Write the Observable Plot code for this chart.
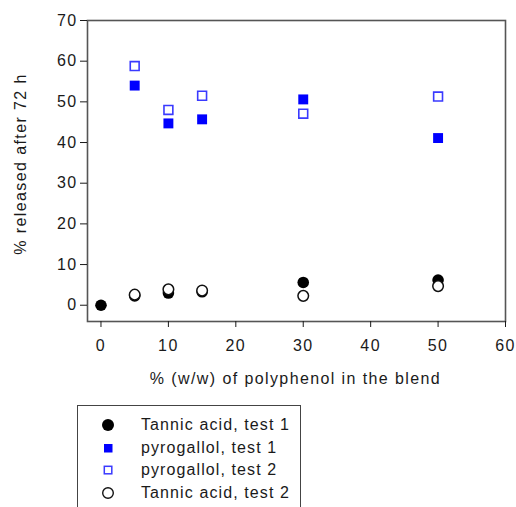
<!DOCTYPE html>
<html>
<head>
<meta charset="utf-8">
<script src="https://cdn.jsdelivr.net/npm/d3@7"></script>
<script src="https://cdn.jsdelivr.net/npm/@observablehq/plot@0.6"></script>
<style>
  body { margin: 0; background: #fff; }
  #wrap { position: relative; width: 516px; height: 507px; overflow: hidden; font-family: "Liberation Sans", Arial, sans-serif; color: #1a1a1a; }
  #legend { position: absolute; left: 77px; top: 405px; width: 224px; height: 130px; border: 1px solid #444; box-sizing: border-box; background: #fff; }
  .row { position: absolute; left: 0; height: 22px; display: flex; align-items: center; font-size: 16px; letter-spacing: 1.1px; }
  .row svg { position: absolute; left: 22px; }
  .row span { position: absolute; left: 63px; white-space: nowrap; }
</style>
</head>
<body>
<div id="wrap"><div id="chart"></div><div id="legend"></div></div>
<script>
// Data
const tannicX1 = [0, 5, 10, 15, 30, 50];
const tannicTest1 = [0, 2.3, 3.0, 3.3, 5.6, 6.2];
const tannicX2 = [5, 10, 15, 30, 50];
const tannicTest2 = [2.6, 3.9, 3.6, 2.3, 4.7];
const pyroX = [5, 10, 15, 30, 50];
const pyroTest1 = [54.0, 44.7, 45.7, 50.6, 41.1];
const pyroTest2 = [58.8, 48.0, 51.5, 47.1, 51.3];
const xTicks = [0, 10, 20, 30, 40, 50, 60];
const yTicks = [0, 10, 20, 30, 40, 50, 60, 70];
const xLabel = "% (w/w) of polyphenol in the blend";
const yLabel = "% released after 72 h";
const seriesNames = ["Tannic acid, test 1", "pyrogallol, test 1", "pyrogallol, test 2", "Tannic acid, test 2"];

const t1 = tannicX1.map((x, i) => ({x, y: tannicTest1[i]}));
const t2 = tannicX2.map((x, i) => ({x, y: tannicTest2[i]}));
const p1 = pyroX.map((x, i) => ({x, y: pyroTest1[i]}));
const p2 = pyroX.map((x, i) => ({x, y: pyroTest2[i]}));

const chart = Plot.plot({
  width: 516,
  height: 400,
  marginLeft: 87,
  marginRight: 11,
  marginTop: 20,
  marginBottom: 79,
  style: { fontFamily: "Liberation Sans, Arial, sans-serif", fontSize: "16px", letterSpacing: "1.4px", color: "#1a1a1a", background: "#fff" },
  x: { domain: [-2, 60] },
  y: { domain: [-4, 70] },
  marks: [
    Plot.frame({ stroke: "#555", strokeWidth: 1.6 }),
    Plot.axisX({ ticks: xTicks, tickSize: 6, tickPadding: 12, tickFormat: d => String(d), label: null }),
    Plot.axisY({ ticks: yTicks, tickSize: 7, tickPadding: 3, tickFormat: d => String(d), label: null }),
    Plot.text([xLabel], { text: d => d, frameAnchor: "bottom", textAnchor: "middle", dy: 62, dx: -1, fontSize: 16 }),
    Plot.text([yLabel], { text: d => d, frameAnchor: "left", textAnchor: "middle", lineAnchor: "middle", rotate: -90, dx: -67, dy: -7, fontSize: 16 }),
    Plot.dot(t1, { x: "x", y: "y", r: 5.8, fill: "#000", stroke: "none" }),
    Plot.dot(p1, { x: "x", y: "y", symbol: "square", r: 5.6, fill: "#0000ff", stroke: "none" }),
    Plot.dot(p2, { x: "x", y: "y", symbol: "square", r: 5.0, fill: "#fff", stroke: "#3a3aff", strokeWidth: 1.6 }),
    Plot.dot(t2, { x: "x", y: "y", r: 5.3, fill: "#fff", stroke: "#111", strokeWidth: 1.5 })
  ]
});
document.getElementById("chart").appendChild(chart);

// Legend
const markers = [
  '<svg width="16" height="16"><circle cx="8" cy="8" r="6" fill="#000"/></svg>',
  '<svg width="16" height="16"><rect x="4" y="4" width="8.5" height="8.5" fill="#0000ff"/></svg>',
  '<svg width="16" height="16"><rect x="4.3" y="4.3" width="7.5" height="7.5" fill="#fff" stroke="#3a3aff" stroke-width="1.5"/></svg>',
  '<svg width="16" height="16"><circle cx="8" cy="8" r="5.3" fill="#fff" stroke="#111" stroke-width="1.4"/></svg>'
];
const legend = document.getElementById("legend");
const rowTops = [8, 31, 53, 76];
seriesNames.forEach((name, i) => {
  const row = document.createElement("div");
  row.className = "row";
  row.style.top = rowTops[i] + "px";
  row.innerHTML = markers[i] + "<span>" + name + "</span>";
  legend.appendChild(row);
});
</script>
</body>
</html>
